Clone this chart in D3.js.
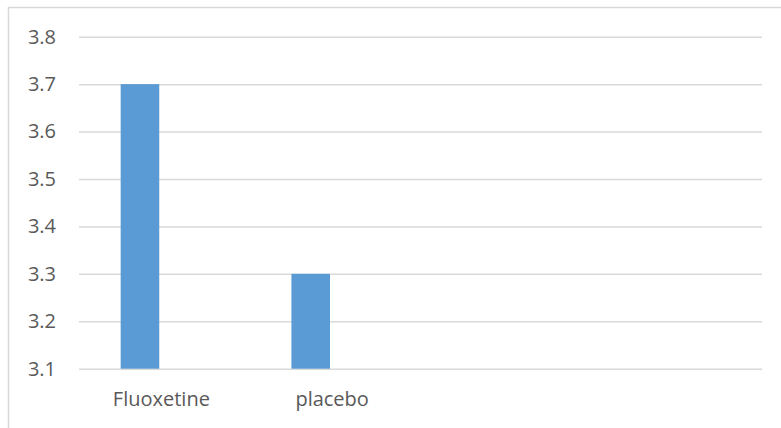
<!DOCTYPE html>
<html>
<head>
<meta charset="utf-8">
<script src="https://cdn.jsdelivr.net/npm/d3@7"></script>
<style>
  html, body { margin: 0; padding: 0; background: #fff; }
  svg { display: block; }
</style>
</head>
<body>
<svg id="chart" width="781" height="428"></svg>
<script>
const categories = ["Fluoxetine", "placebo", "", ""];
const seriesValues = [3.7, 3.3, null, null];
const yTicks = [3.1, 3.2, 3.3, 3.4, 3.5, 3.6, 3.7, 3.8];

const W = 781, H = 428;
const svg = d3.select("#chart");
const fontFamily = "'Open Sans', 'Liberation Sans', sans-serif";

// outer chart border (cropped at right and bottom)
svg.append("rect")
  .attr("x", 8.5).attr("y", 7.5)
  .attr("width", W + 10).attr("height", H + 10)
  .attr("fill", "#fff").attr("stroke", "#D9D9D9").attr("stroke-width", 1.5);

const plot = { left: 79, right: 762, top: 36.7, bottom: 368.7 };

const x = d3.scaleBand().domain(d3.range(categories.length))
  .range([plot.left, plot.right]).paddingInner(0).paddingOuter(0);
const y = d3.scaleLinear().domain([3.1, 3.8]).range([plot.bottom, plot.top]);

// gridlines + value labels
const yAxis = d3.axisLeft(y).tickValues(yTicks)
  .tickSize(-(plot.right - plot.left)).tickPadding(23)
  .tickFormat(d3.format(".1f"));
const gy = svg.append("g").attr("transform", `translate(${plot.left},0)`).call(yAxis);
gy.select(".domain").remove();
gy.selectAll(".tick line").attr("stroke", "#D9D9D9").attr("stroke-width", 1.5);
gy.selectAll(".tick text")
  .attr("fill", "#595959").style("font-family", fontFamily).style("font-size", "20px");

// bars
const barOffset = 0.244, barWidth = 0.226;
svg.append("g").selectAll("rect")
  .data(seriesValues.map((v, i) => ({ v, i })).filter(d => d.v != null))
  .join("rect")
  .attr("x", d => x(d.i) + x.bandwidth() * barOffset)
  .attr("width", x.bandwidth() * barWidth)
  .attr("y", d => y(d.v))
  .attr("height", d => y(3.1) - y(d.v))
  .attr("fill", "#5B9BD5");

// category axis
const xAxis = d3.axisBottom(x).tickFormat(i => categories[i]).tickSize(0).tickPadding(23);
const gx = svg.append("g").attr("transform", `translate(-3,${plot.bottom})`).call(xAxis);
gx.select(".domain").remove();
gx.selectAll(".tick text")
  .attr("fill", "#595959").style("font-family", fontFamily).style("font-size", "20px");
</script>
</body>
</html>
